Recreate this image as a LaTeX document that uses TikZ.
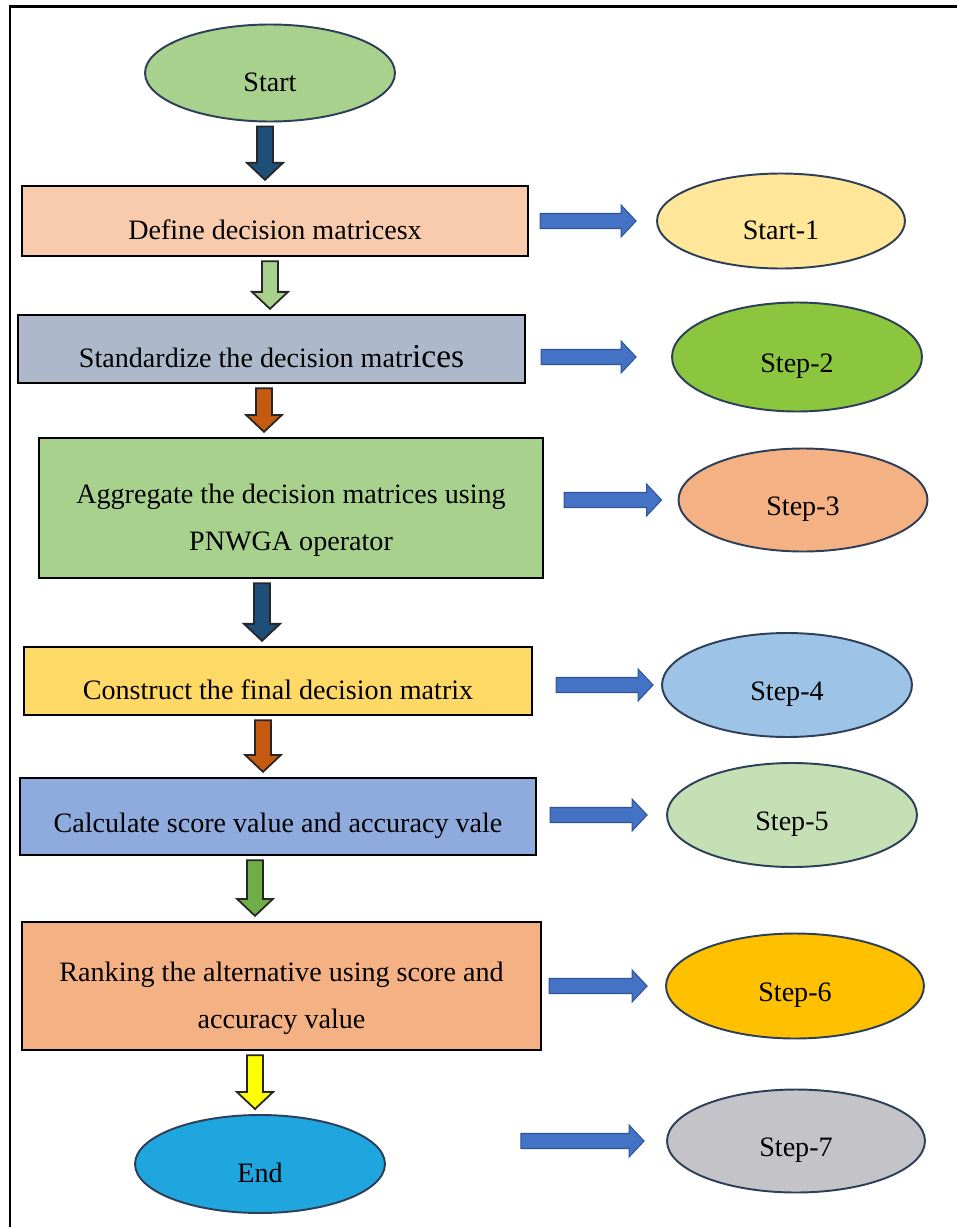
\documentclass[tikz,border=0pt]{standalone}
\usepackage{fontspec}
\setmainfont{Liberation Serif}
\definecolor{peach}{RGB}{248, 203, 173}
\definecolor{slateblue}{RGB}{173, 185, 202}
\definecolor{leafgreen}{RGB}{169, 209, 142}
\definecolor{gold}{RGB}{255, 217, 102}
\definecolor{cornflower}{RGB}{143, 170, 220}
\definecolor{salmon}{RGB}{244, 177, 131}
\definecolor{cream}{RGB}{255, 230, 153}
\definecolor{grassgreen}{RGB}{140, 198, 63}
\definecolor{skyblue}{RGB}{157, 195, 230}
\definecolor{palegreen}{RGB}{197, 224, 180}
\definecolor{amber}{RGB}{255, 192, 0}
\definecolor{silver}{RGB}{196, 196, 200}
\definecolor{ocean}{RGB}{32, 166, 222}
\definecolor{navy}{RGB}{31, 78, 121}
\definecolor{rust}{RGB}{197, 90, 17}
\definecolor{olive}{RGB}{112, 173, 71}
\definecolor{lemon}{RGB}{255, 255, 0}
\definecolor{royal}{RGB}{68, 114, 196}
\definecolor{royaledge}{RGB}{47, 85, 151}
\definecolor{ovaledge}{RGB}{45, 62, 88}
\usetikzlibrary{
  calc,
  positioning,
  shapes.geometric,
}
\tikzset{
  flowarr/.style={draw=black!85, line width=1pt, line join=miter},
  sidearr/.style={draw=royaledge, fill=royal, line width=0.6pt},
}
% fat arrow going down: x position (px), from node, to node, fill
\newcommand{\vflow}[4]{%
  \filldraw[flowarr, fill=#4]
    let \p1 = ($(#1,0 |- #2.south)+(0,4)$),
        \p2 = ($(#1,0 |- #3.north)+(0,-5)$) in
    (\x1-0.16cm,\y1) -- (\x1+0.16cm,\y1) -- (\x1+0.16cm,\y2+0.34cm)
    -- (\x1+0.36cm,\y2+0.34cm) -- (\x1,\y2) -- (\x1-0.36cm,\y2+0.34cm)
    -- (\x1-0.16cm,\y2+0.34cm) -- cycle;}
% fat arrow going right: from node, to node, gap at start, gap at end (px)
\newcommand{\hflow}[4]{%
  \filldraw[sidearr]
    let \p1 = ($(#1.east |- #2.west)+(#3,0)$),
        \p2 = ($(#2.west)+(-#4,0)$) in
    (\x1,\y1-0.15cm) -- (\x2-0.3cm,\y1-0.15cm) -- (\x2-0.3cm,\y1-0.32cm)
    -- (\x2,\y1) -- (\x2-0.3cm,\y1+0.32cm) -- (\x2-0.3cm,\y1+0.15cm)
    -- (\x1,\y1+0.15cm) -- cycle;}

\begin{document}
\begin{tikzpicture}[x=0.02cm, y=-0.02cm,
    box/.style={draw=black, line width=1.3pt, align=center, inner sep=0pt,
                text height=0.75cm, font=\fontsize{16}{27}\selectfont},
    tallbox/.style={box, text height=1.82cm},
    oval/.style={ellipse, draw=ovaledge, line width=1.1pt, inner sep=0pt,
                 text height=0.75cm, font=\fontsize{16}{19}\selectfont}]
  \useasboundingbox (0,0) rectangle (957,1227);
  \draw [black, line width=1.6pt] (10,1227) -- (10,6.5) -- (957,6.5);

  % main column
  \node [oval, fill=leafgreen, minimum width=5cm, minimum height=1.94cm]
        (start) at (270,73) {Start};
  \node [box, fill=peach, minimum width=10.12cm, minimum height=1.4cm]
        (define) at (275,221) {Define decision matricesx};
  \node [box, fill=slateblue, minimum width=10.14cm, minimum height=1.36cm]
        (standard) at (271.5,349)
        {Standardize the decision matr{\fontsize{19}{20}\selectfont ices}};
  \node [tallbox, fill=leafgreen, minimum width=10.08cm, minimum height=2.8cm]
        (aggregate) at (291,508)
        {Aggregate the decision matrices using\\PNWGA operator};
  \node [box, fill=gold, minimum width=10.16cm, minimum height=1.36cm]
        (construct) at (278,681) {Construct the final decision matrix};
  \node [box, fill=cornflower, minimum width=10.32cm, minimum height=1.54cm]
        (calculate) at (278,816.5) {Calculate score value and accuracy vale};
  \node [tallbox, fill=salmon, minimum width=10.38cm, minimum height=2.56cm]
        (ranking) at (281.5,986)
        {Ranking the alternative using score and\\accuracy value};
  \node [oval, fill=ocean, minimum width=5cm, minimum height=1.96cm]
        (end) at (260,1164) {End};

  % step column
  \node [oval, fill=cream, minimum width=4.96cm, minimum height=1.9cm]
        (step1) at (781,221) {Start-1};
  \node [oval, fill=grassgreen, minimum width=5cm, minimum height=2.18cm]
        (step2) at (797,357) {Step-2};
  \node [oval, fill=salmon, minimum width=4.98cm, minimum height=2.06cm]
        (step3) at (803,500) {Step-3};
  \node [oval, fill=skyblue, minimum width=5cm, minimum height=2.08cm]
        (step4) at (787,685) {Step-4};
  \node [oval, fill=palegreen, minimum width=5cm, minimum height=2.08cm]
        (step5) at (792,815) {Step-5};
  \node [oval, fill=amber, minimum width=5.16cm, minimum height=2.1cm]
        (step6) at (795,986) {Step-6};
  \node [oval, fill=silver, minimum width=5.16cm, minimum height=2.06cm]
        (step7) at (796,1141) {Step-7};

  % arrows down the flow
  \vflow{265}{start}{define}{navy}
  \vflow{270}{define}{standard}{leafgreen}
  \vflow{264}{standard}{aggregate}{rust}
  \vflow{262}{aggregate}{construct}{navy}
  \vflow{263}{construct}{calculate}{rust}
  \vflow{255}{calculate}{ranking}{olive}
  \vflow{255}{ranking}{end}{lemon}

  % arrows out to the steps
  \hflow{define}{step1}{11}{20}
  \hflow{standard}{step2}{15}{35}
  \hflow{aggregate}{step3}{20}{16}
  \hflow{construct}{step4}{23}{8}
  \hflow{calculate}{step5}{13}{19}
  \hflow{ranking}{step6}{7}{18}
  \hflow{end}{step7}{135}{22}
\end{tikzpicture}
\end{document}
